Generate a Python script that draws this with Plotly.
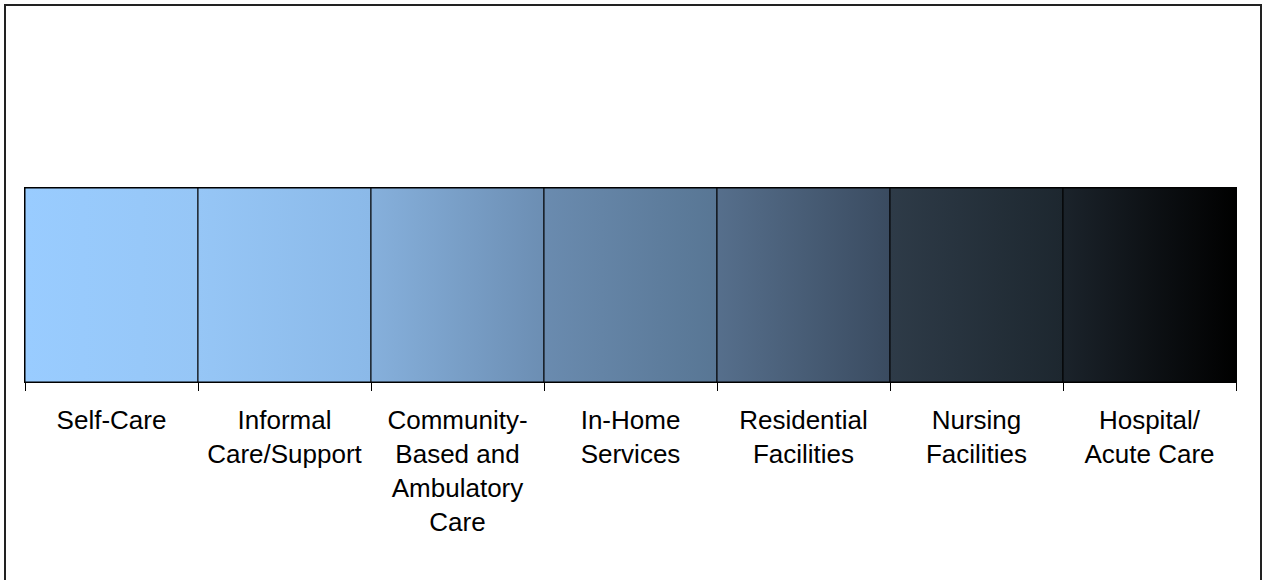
import plotly.graph_objects as go

categories = ["Self-Care", "Informal<br>Care/Support", "Community-<br>Based and<br>Ambulatory<br>Care",
              "In-Home<br>Services", "Residential<br>Facilities", "Nursing<br>Facilities", "Hospital/<br>Acute Care"]
values = [1, 1, 1, 1, 1, 1, 1]
# gradient (left colour, right colour) of each segment
seg_colors = [("#99CCFF", "#96C6F6"), ("#96C6F6", "#8BB9E8"), ("#86B0DC", "#6C8EB3"),
              ("#6A8BAF", "#587694"), ("#566F8C", "#3A4B60"), ("#2E3B48", "#1D272F"),
              ("#1B232B", "#000000")]

W, H = 1262, 580
L, R, T, B = 25, 1236, 188, 382

fig = go.Figure()
for i, (cat, v) in enumerate(zip(categories, values)):
    c0, c1 = seg_colors[i]
    fig.add_trace(go.Scatter(
        x=[i - 0.5, i + 0.5, i + 0.5, i - 0.5, i - 0.5],
        y=[0, 0, v, v, 0],
        mode="lines", fill="toself",
        fillgradient=dict(type="horizontal", colorscale=[[0, c0], [1, c1]]),
        line=dict(color="black", width=1),
        hoverinfo="skip", showlegend=False))

n = len(categories)
fig.update_xaxes(range=[-0.5, n - 0.5], tickvals=list(range(n)), ticktext=categories,
                 ticks="", showgrid=False, zeroline=False,
                 showline=True, linecolor="black", linewidth=1, mirror=True,
                 tickfont=dict(family="Liberation Sans, Arial", size=26, color="black"),
                 minor=dict(tickvals=[i - 0.5 for i in range(n + 1)], ticks="outside",
                            ticklen=8, tickcolor="black", tickwidth=1, showgrid=False),
                 ticklabelstandoff=15)
fig.update_yaxes(range=[0, 1], showticklabels=False, ticks="", showgrid=False, zeroline=False,
                 showline=True, linecolor="black", linewidth=1, mirror=True)

pw, ph = R - L, B - T
fig.add_shape(type="rect", xref="paper", yref="paper",
              x0=(5 - L) / pw, x1=(1261 - L) / pw,
              y0=(B - 600) / ph, y1=(B - 5) / ph,
              line=dict(color="#222222", width=2), fillcolor="rgba(0,0,0,0)")

fig.update_layout(width=W, height=H, margin=dict(l=L, r=W - R, t=T, b=H - B),
                  plot_bgcolor="white", paper_bgcolor="white")
fig.write_html("out.html", config={"displayModeBar": False},
               post_script="document.body.style.margin='0';document.body.style.overflow='hidden';")
